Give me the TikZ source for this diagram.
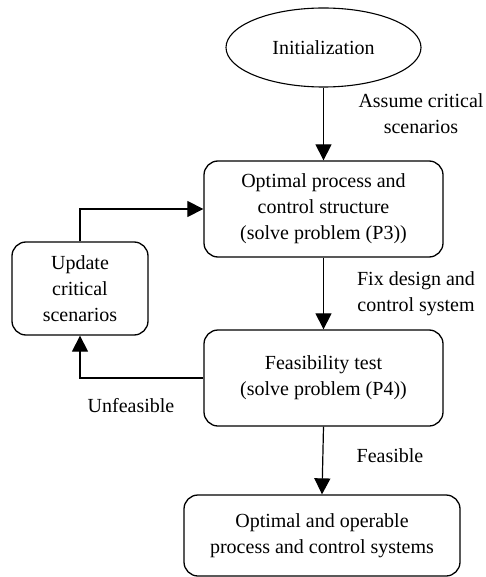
\documentclass[tikz,border=0pt]{standalone}
\usepackage{fontspec}
\setmainfont{Liberation Serif}
\usetikzlibrary{arrows.meta,shapes.geometric}
\begin{document}
\begin{tikzpicture}[x=1pt,y=-1pt,
  every node/.style={font=\fontsize{20}{26}\selectfont, inner sep=0pt},
  box/.style={draw, line width=1.3pt, rounded corners=14pt, align=center},
  lbl/.style={align=center},
  arr/.style={line width=1.2pt, -{Triangle[length=16pt,width=16pt]}}]
\useasboundingbox (0,0) rectangle (486,577);
\node[draw, ellipse, line width=1.1pt, minimum width=195pt, minimum height=79pt] (init) at (323.5,47.5) {Initialization};
\node[box, minimum width=239pt, minimum height=96pt] (opt) at (323.5,209) {Optimal process and\\control structure\\(solve problem (P3))};
\node[box, minimum width=136pt, minimum height=93pt] (upd) at (80,288.5) {Update\\critical\\scenarios};
\node[box, minimum width=239pt, minimum height=96pt] (feas) at (323.5,378) {Feasibility test\\(solve problem (P4))};
\node[box, minimum width=276pt, minimum height=81pt] (fin) at (322,535.5) {Optimal and operable\\process and control systems};
\node[lbl] (l1) at (421,114) {Assume critical\\scenarios};
\node[lbl] (l2) at (416,294) {Fix design and\\control system};
\node[lbl] (l3) at (131,406) {Unfeasible};
\node[lbl] (l4) at (390,456) {Feasible};
\draw[arr] (init.south) -- (opt.north);
\draw[arr] (opt.south) -- (feas.north);
\draw[arr] (feas.south) -- (fin.north);
\draw[arr] (feas.west) -| (upd.south);
\draw[arr] (upd.north) |- (opt.west);
\end{tikzpicture}
\end{document}
